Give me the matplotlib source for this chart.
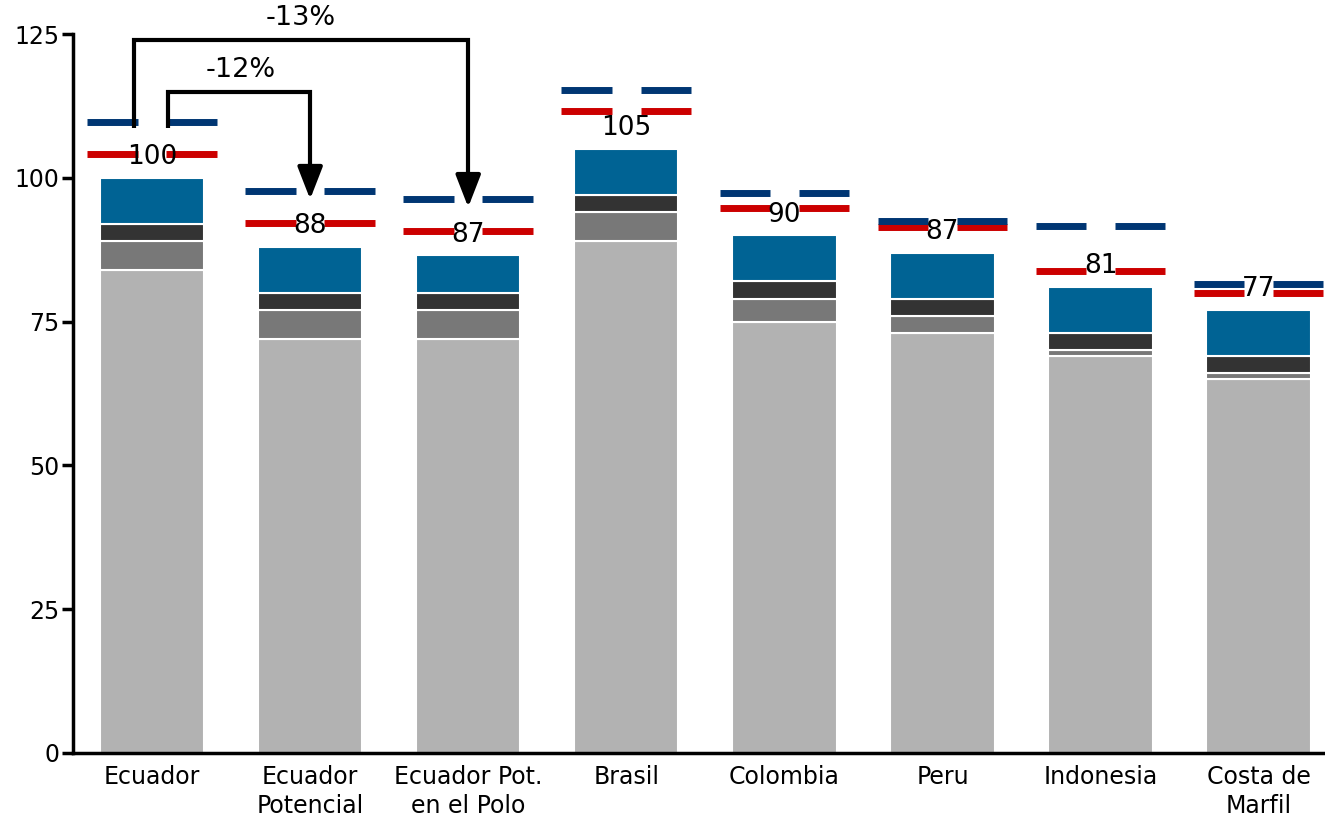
import matplotlib.pyplot as plt
import numpy as np

categories = ['Ecuador', 'Ecuador\nPotencial', 'Ecuador Pot.\nen el Polo', 'Brasil',
              'Colombia', 'Peru', 'Indonesia', 'Costa de\nMarfil']
seg1 = [84, 72, 72, 89, 75, 73, 69, 65]      # light gray
seg2 = [5, 5, 5, 5, 4, 3, 1, 1]              # mid gray
seg3 = [3, 3, 3, 3, 3, 3, 3, 3]              # dark gray
seg4 = [8, 8, 6.5, 8, 8, 8, 8, 8]            # blue
totals = [100, 88, 87, 105, 90, 87, 81, 77]
blue_marks = [109.7, 97.7, 96.3, 115.3, 97.4, 92.5, 91.6, 81.5]
red_marks = [104.1, 92.1, 90.7, 111.6, 94.7, 91.4, 83.8, 80.0]

colors = ['#b2b2b2', '#787878', '#333333', '#006394']
plt.rcParams['font.family'] = 'DejaVu Sans'

fig = plt.figure(figsize=(13.25, 8.18), dpi=100)
ax = fig.add_axes([0.0551, 0.0795, 0.9449, 0.8789])

x = np.arange(len(categories))
bottom = np.zeros(len(categories))
for vals, c in zip([seg1, seg2, seg3, seg4], colors):
    ax.bar(x, vals, bottom=bottom, width=0.66, color=c, edgecolor='white', linewidth=1.5, zorder=2)
    bottom += np.array(vals)

# reference markers, split around the value label
for xi, b, r in zip(x, blue_marks, red_marks):
    for lo, hi in [(-0.41, -0.09), (0.09, 0.41)]:
        ax.plot([xi + lo, xi + hi], [r, r], color='#cc0000', lw=5, solid_capstyle='butt', zorder=3)
        ax.plot([xi + lo, xi + hi], [b, b], color='#003673', lw=5, solid_capstyle='butt', zorder=3)

for xi, b, t in zip(x, bottom, totals):
    ax.text(xi, b + 3.6, str(t), ha='center', va='center', fontsize=19, zorder=4)

# change arrows
def elbow(x0, x1, ytop, ytip, label, lx, ly):
    ax.plot([x0, x0, x1, x1], [108.7, ytop, ytop, ytip + 3], color='black', lw=3,
            solid_joinstyle='miter', solid_capstyle='butt', zorder=5, clip_on=False)
    ax.annotate('', xy=(x1, ytip), xytext=(x1, ytip + 3.2),
                arrowprops=dict(arrowstyle='-|>,head_width=0.35,head_length=0.9',
                                color='black', lw=3, mutation_scale=22), zorder=5)
    ax.text(lx, ly, label, ha='center', va='center', fontsize=19.5, clip_on=False)

elbow(-0.114, 2.0, 124.0, 94.4, '-13%', 0.94, 127.8)
elbow(0.10, 1.0, 114.9, 95.8, '-12%', 0.56, 118.7)

ax.set_xlim(-0.5, 7.42)
ax.set_ylim(0, 125)
ax.set_yticks([0, 25, 50, 75, 100, 125])
ax.set_xticks(x)
ax.set_xticklabels(categories, fontsize=17, linespacing=1.25)
ax.tick_params(axis='x', length=0, pad=9)
ax.tick_params(axis='y', length=8, width=2.5, labelsize=17, pad=2)
for s in ['top', 'right']:
    ax.spines[s].set_visible(False)
for s in ['left', 'bottom']:
    ax.spines[s].set_linewidth(2.5)

fig.savefig('out.png', dpi=100)
